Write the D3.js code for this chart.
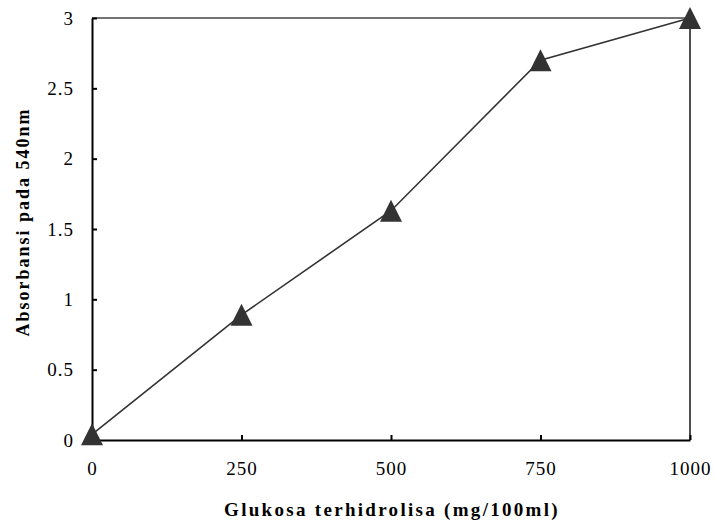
<!DOCTYPE html>
<html><head><meta charset="utf-8">
<script src="https://cdn.jsdelivr.net/npm/d3@7"></script>
<style>body{margin:0;background:#fff}svg{display:block}</style>
</head><body>
<svg id="c" width="715" height="527"></svg>
<script>
const xValues = [0, 250, 500, 750, 1000];
const yValues = [0.04, 0.89, 1.63, 2.70, 3.0];
const xTicks = [0, 250, 500, 750, 1000];
const yTicks = [0, 0.5, 1, 1.5, 2, 2.5, 3];
const xTitle = "Glukosa terhidrolisa (mg/100ml)";
const yTitle = "Absorbansi pada 540nm";

const svg = d3.select("#c");
const L = 92, R = 690, T = 18, B = 440;
const x = d3.scaleLinear().domain([0, 1000]).range([L, R]);
const y = d3.scaleLinear().domain([0, 3]).range([B, T]);
const font = "'Liberation Serif','Times New Roman',serif";

// frame top/right
svg.append("line").attr("x1", L).attr("x2", R).attr("y1", T).attr("y2", T).attr("stroke", "#444").attr("stroke-width", 1.5);
svg.append("line").attr("x1", R).attr("x2", R).attr("y1", T).attr("y2", B).attr("stroke", "#222").attr("stroke-width", 1.6);

const xAxis = svg.append("g").attr("transform", `translate(0,${B})`)
  .call(d3.axisBottom(x).tickValues(xTicks).tickSizeInner(-5).tickSizeOuter(0).tickPadding(22).tickFormat(d3.format("d")));
const yAxis = svg.append("g").attr("transform", `translate(${L},0)`)
  .call(d3.axisLeft(y).tickValues(yTicks).tickSizeInner(-5).tickSizeOuter(0).tickPadding(18).tickFormat(d => String(d)));
[xAxis, yAxis].forEach(a => {
  a.select(".domain").attr("stroke", "#000").attr("stroke-width", 2);
  a.selectAll(".tick line").attr("stroke", "#000").attr("stroke-width", 2);
  a.selectAll("text").attr("font-family", font).attr("font-size", 19).attr("letter-spacing", 1).attr("fill", "#000");
});
yAxis.selectAll("text").attr("dy", "0.32em");

const data = xValues.map((v, i) => ({x: v, y: yValues[i]}));
svg.append("path").datum(data)
  .attr("d", d3.line().x(d => x(d.x)).y(d => y(d.y)))
  .attr("fill", "none").attr("stroke", "#333").attr("stroke-width", 1.6);

const triType = { draw(ctx, size) { const h = Math.sqrt(size) / 2; ctx.moveTo(0, -h); ctx.lineTo(h, h); ctx.lineTo(-h, h); ctx.closePath(); } };
const tri = d3.symbol().type(triType).size(22 * 22);
svg.selectAll(".m").data(data).join("path")
  .attr("transform", d => `translate(${x(d.x)},${y(d.y)})`)
  .attr("d", tri).attr("fill", "#333");

svg.append("text").attr("x", 392).attr("y", 516).attr("text-anchor", "middle")
  .attr("font-family", font).attr("font-size", 19).attr("font-weight", "bold").attr("letter-spacing", 2.3).text(xTitle);
svg.append("text").attr("transform", "translate(29,222) rotate(-90)").attr("text-anchor", "middle")
  .attr("font-family", font).attr("font-size", 18).attr("font-weight", "bold").attr("letter-spacing", 2).text(yTitle);
</script>
</body></html>
